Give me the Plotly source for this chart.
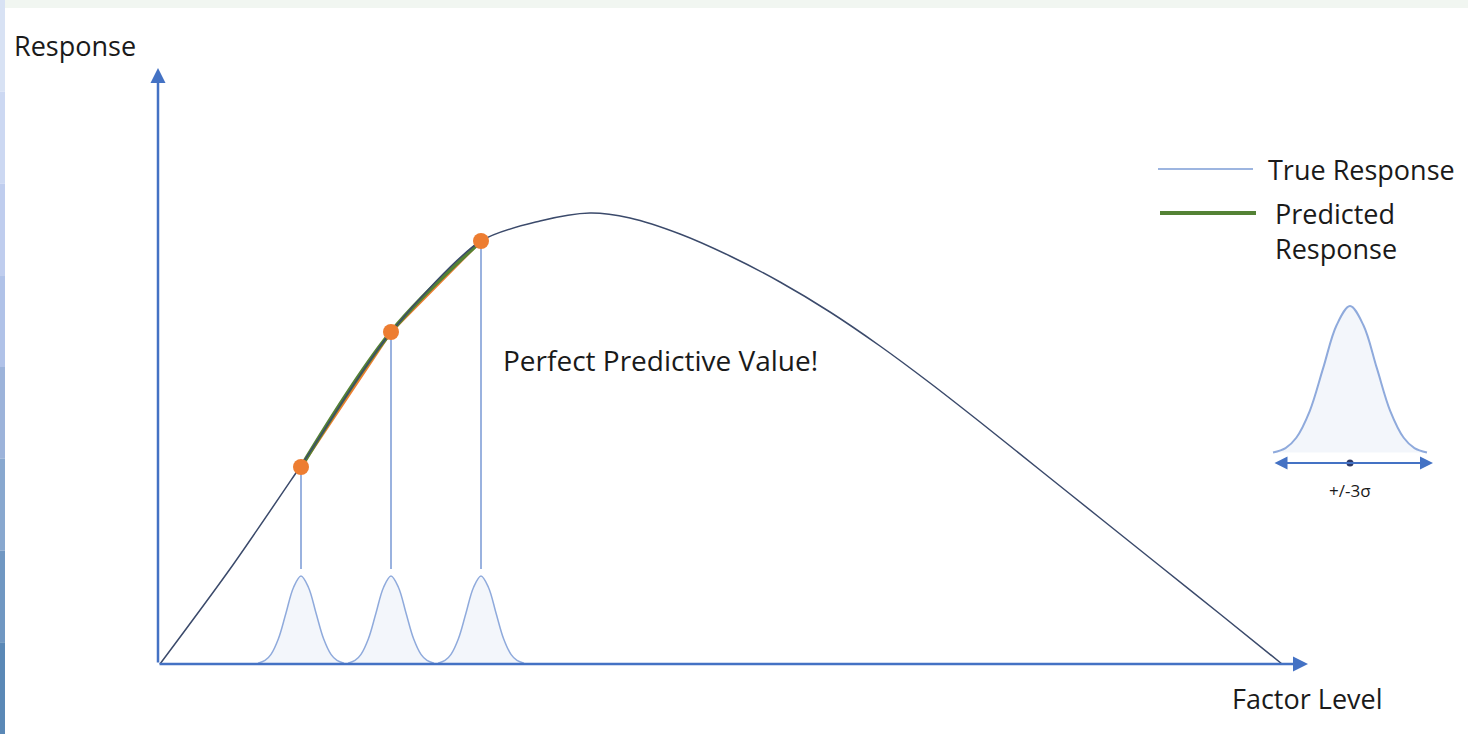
import plotly.graph_objects as go

# ---- data (factor level, response) ----
true_x = [0.02, 0.72, 1.42, 2.33, 3.23, 3.82, 4.32, 4.72, 5.22, 5.72, 6.22, 6.72, 7.22, 7.72, 8.22, 8.82, 9.42, 10.02, 10.62, 11.24]
true_y = [0.00, 0.95, 1.97, 3.32, 4.23, 4.43, 4.51, 4.46, 4.30, 4.08, 3.82, 3.52, 3.18, 2.81, 2.42, 1.94, 1.46, 0.98, 0.50, 0.00]

design_x = [1.43, 2.33, 3.23]
design_y = [1.97, 3.32, 4.23]

# bell-shaped noise profile (offset, relative height)
bell_dx = [-0.43, -0.36, -0.30, -0.225, -0.15, -0.075, 0.0, 0.075, 0.15, 0.225, 0.30, 0.36, 0.43]
bell_h = [0.01, 0.04, 0.11, 0.29, 0.58, 0.87, 1.0, 0.87, 0.58, 0.29, 0.11, 0.04, 0.01]
bell_peak = 0.88
drop_bottom = 0.95

legend_bell_center = 11.92
legend_bell_base = 2.10
legend_bell_height = 1.48
legend_bell_xscale = 1.79

AXIS = "#4472C4"
LIGHT = "#8FAADC"
CURVE = "#3B4A6B"
GREEN = "#548235"
ORANGE = "#ED7D31"
FILL = "rgba(220,228,244,0.35)"
TXT = "#1a1a1a"
FONT = "Open Sans"

fig = go.Figure()

# bells under each design point
for cx in design_x:
    fig.add_trace(go.Scatter(
        x=[cx + d for d in bell_dx], y=[bell_peak * h for h in bell_h],
        mode="lines", line=dict(color=LIGHT, width=1.5, shape="spline"),
        fill="toself", fillcolor=FILL, hoverinfo="skip", showlegend=False))

# drop lines
for cx, cy in zip(design_x, design_y):
    fig.add_trace(go.Scatter(
        x=[cx, cx], y=[cy, drop_bottom], mode="lines",
        line=dict(color=LIGHT, width=1.8), hoverinfo="skip", showlegend=False))

# orange straight segments
fig.add_trace(go.Scatter(x=design_x, y=design_y, mode="lines",
                         line=dict(color=ORANGE, width=2.5), showlegend=False))
# predicted response (green)
fig.add_trace(go.Scatter(x=design_x, y=design_y, mode="lines",
                         line=dict(color=GREEN, width=4, shape="spline"), showlegend=False))
# true response
fig.add_trace(go.Scatter(x=true_x, y=true_y, mode="lines",
                         line=dict(color=CURVE, width=1.5, shape="spline", smoothing=0.8),
                         showlegend=False))
# design points
fig.add_trace(go.Scatter(x=design_x, y=design_y, mode="markers",
                         marker=dict(color=ORANGE, size=16), showlegend=False))

# legend bell
fig.add_trace(go.Scatter(
    x=[legend_bell_center + d * legend_bell_xscale for d in bell_dx],
    y=[legend_bell_base + legend_bell_height * h for h in bell_h],
    mode="lines", line=dict(color=LIGHT, width=2, shape="spline"),
    fill="toself", fillcolor=FILL, hoverinfo="skip", showlegend=False))
fig.add_trace(go.Scatter(x=[legend_bell_center], y=[2.01], mode="markers",
                         marker=dict(color="#2F3A66", size=7), showlegend=False))

# legend lines
fig.add_trace(go.Scatter(x=[10.00, 10.95], y=[4.95, 4.95], mode="lines",
                         line=dict(color="#7C9CD6", width=1.5), showlegend=False))
fig.add_trace(go.Scatter(x=[10.02, 10.98], y=[4.51, 4.51], mode="lines",
                         line=dict(color=GREEN, width=4), showlegend=False))

ann = []
# axes arrows
ann.append(dict(x=0, y=5.96, ax=0, ay=0, xref="x", yref="y", axref="x", ayref="y",
                text="", showarrow=True, arrowhead=2, arrowsize=1.2, arrowwidth=2.5, arrowcolor=AXIS))
ann.append(dict(x=11.50, y=0, ax=0, ay=0, xref="x", yref="y", axref="x", ayref="y",
                text="", showarrow=True, arrowhead=2, arrowsize=1.2, arrowwidth=2.5, arrowcolor=AXIS))
# legend double arrow
ann.append(dict(x=12.75, y=2.01, ax=11.15, ay=2.01, xref="x", yref="y", axref="x", ayref="y",
                text="", showarrow=True, arrowhead=2, arrowside="end+start", arrowsize=1.3,
                arrowwidth=2, arrowcolor=AXIS))

def txt(s, x, y, size=27, xanchor="left"):
    ann.append(dict(x=x, y=y, xref="x", yref="y", text=s, showarrow=False,
                    xanchor=xanchor, yanchor="middle", align="left",
                    font=dict(family=FONT, size=size, color=TXT)))

txt("Response", -1.46, 6.19)
txt("Factor Level", 10.72, -0.34)
txt("Perfect Predictive Value!", 3.43, 3.04, size=28)
txt("True Response", 11.08, 4.95)
txt("Predicted<br>Response", 11.15, 4.335)
txt("+/-3σ", legend_bell_center, 1.74, size=17, xanchor="center")

shapes = [
    dict(type="rect", xref="paper", yref="paper", x0=0, x1=1, y0=1 - 8 / 734, y1=1,
         fillcolor="#F1F6F1", line=dict(width=0), layer="below"),
]
grad = ["#D8E2F4", "#CCD8F2", "#BFCDEE", "#B0C2E8", "#9CB3DA", "#88A8CF", "#7097C2", "#5A88B6"]
for i, c in enumerate(grad):
    shapes.append(dict(type="rect", xref="paper", yref="paper", x0=0, x1=5 / 1468,
                       y0=1 - (i + 1) / len(grad), y1=1 - i / len(grad),
                       fillcolor=c, line=dict(width=0), layer="below"))

fig.update_layout(
    width=1468, height=734, autosize=False,
    margin=dict(l=0, r=0, t=0, b=0),
    paper_bgcolor="white", plot_bgcolor="white",
    xaxis=dict(range=[-1.58, 13.10], visible=False, fixedrange=True),
    yaxis=dict(range=[-0.70, 6.64], visible=False, fixedrange=True),
    annotations=ann, shapes=shapes, showlegend=False,
)

fig.write_html("out.html", config={"displayModeBar": False},
               post_script="document.body.style.margin='0';document.body.style.overflow='hidden';")
